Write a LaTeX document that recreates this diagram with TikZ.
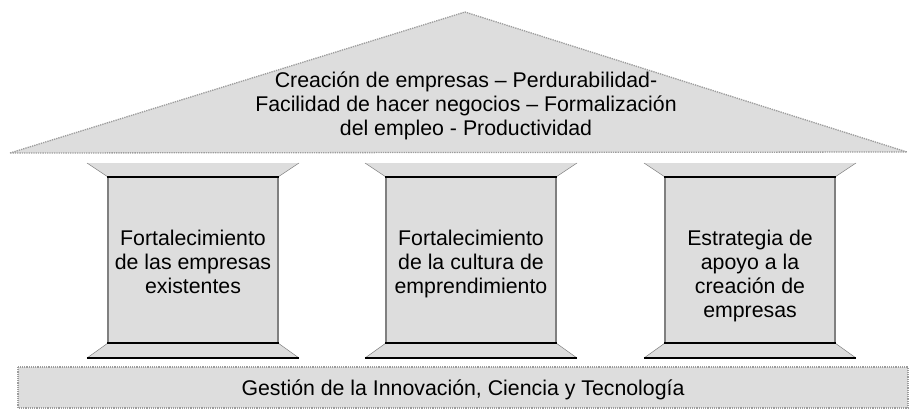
\documentclass[tikz,border=0pt]{standalone}
\usepackage{fontspec}
\setmainfont{Liberation Sans}
\usetikzlibrary{positioning}
\definecolor{stoneFill}{HTML}{DDDDDD}
\definecolor{stoneEdge}{HTML}{9C9C9C}
\definecolor{shaftEdge}{HTML}{808080}
\tikzset{
  roof/.style={fill=stoneFill, draw=stoneEdge, line width=1.3pt, densely dotted},
  plinth/.style={fill=stoneFill, draw=stoneEdge, line width=1.2pt, densely dotted},
  capital/.style={fill=stoneFill, draw=shaftEdge, line width=0.5pt},
  shaft/.style={fill=stoneFill},
  edge/.style={draw=black, line width=1.1pt},
  side/.style={draw=shaftEdge, line width=1.6pt},
  label/.style={font=\fontsize{21.3}{24}\selectfont, align=center, inner sep=0pt, text=black}
}

\begin{document}
\begin{tikzpicture}[x=1pt,y=-1pt]
  \useasboundingbox (0,0) rectangle (909,408);
  % roof
  \draw[roof] (10,153) -- (465,12) -- (907,152) -- cycle;
  \node[label] (roofTxt) at (466,106) {Creación de empresas – Perdurabilidad-\\Facilidad de hacer negocios – Formalización\\del empleo - Productividad};
  % pillars
  \foreach \i/\cx/\txt in {1/193/{Fortalecimiento\\de las empresas\\existentes},
                           2/471/{Fortalecimiento\\de la cultura de\\emprendimiento},
                           3/750/{Estrategia de\\apoyo a la\\creación de\\empresas}}{
    \fill[capital,draw=none] (\cx-106,163) -- (\cx+106,163) -- (\cx+85,177) -- (\cx-85,177) -- cycle;
    \draw[capital,fill=none] (\cx-106,163) -- (\cx-85,177) (\cx+106,163) -- (\cx+85,177);
    \fill[shaft] (\cx-85,177) rectangle (\cx+85,343);
    \fill[capital,draw=none] (\cx-85,343) -- (\cx+85,343) -- (\cx+106,358) -- (\cx-106,358) -- cycle;
    \draw[capital,fill=none] (\cx-85,343) -- (\cx-106,358) (\cx+85,343) -- (\cx+106,358);
    \draw[side] (\cx-85,177) -- (\cx-85,343) (\cx+85,177) -- (\cx+85,343);
    \draw[edge] (\cx-86,177) -- (\cx+86,177);
    \draw[edge] (\cx-86,343) -- (\cx+86,343);
    \draw[edge] (\cx-106,358) -- (\cx+106,358);
    \node[label,anchor=north] (pillar\i) at (\cx,230) {\txt};
  }
  % plinth
  \draw[plinth] (18,367) rectangle (908,408);
  \node[label] (baseTxt) at (463,390) {Gestión de la Innovación, Ciencia y Tecnología};
\end{tikzpicture}
\end{document}
